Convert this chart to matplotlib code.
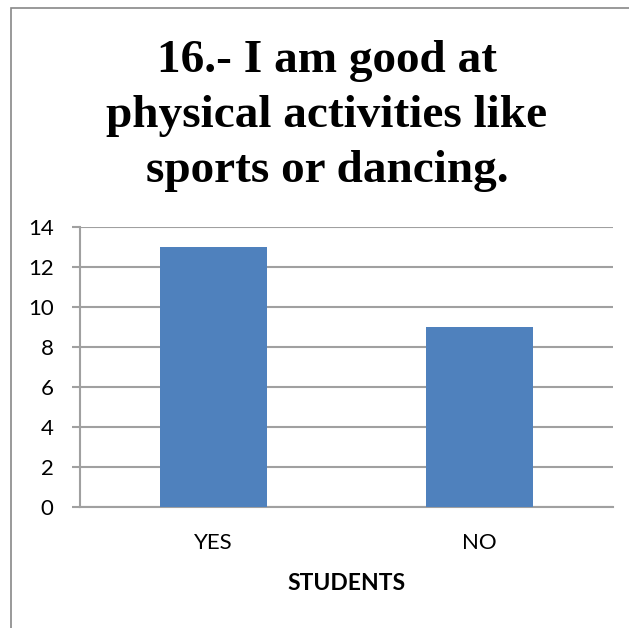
import matplotlib
matplotlib.use("Agg")
import matplotlib.pyplot as plt
from matplotlib.lines import Line2D

# Survey answers for item 16
categories = ["YES", "NO"]
students = [13, 9]
y_ticks = [0, 2, 4, 6, 8, 10, 12, 14]
title_lines = ["16.- I am good at", "physical activities like", "sports or dancing."]
x_title = "STUDENTS"

BAR_COLOR = "#4F81BD"
GRID_COLOR = "#A0A0A0"
SANS = ["Lato", "DejaVu Sans"]
SERIF = ["Liberation Serif", "DejaVu Serif"]
W, H = 629, 628

fig = plt.figure(figsize=(W / 100, H / 100), dpi=100)
fig.patch.set_edgecolor("none")

# chart-area frame: only the left and top edges fall inside the image
x0, y0 = 10.5 / W, 1 - 8 / H
fig.add_artist(Line2D([x0, x0, 1.0], [0.0, y0, y0], transform=fig.transFigure,
                      color="#888888", linewidth=1.2, solid_capstyle="butt",
                      solid_joinstyle="miter"))

# title, one centred line at a time
title_y = [61, 116, 171]
for line, y in zip(title_lines, title_y):
    fig.text(327 / W, 1 - y / H, line, ha="center", va="center",
             family=SERIF, fontweight="bold", fontsize=34)

ax = fig.add_axes([80 / W, 1 - 507 / H, 533 / W, 280 / H])
ax.bar(range(len(categories)), students, width=0.4, color=BAR_COLOR, zorder=3)

ax.set_xlim(-0.5, len(categories) - 0.5)
ax.set_ylim(0, 14)
ax.set_yticks(y_ticks)
ax.set_yticklabels([str(t) for t in y_ticks], family=SANS, fontsize=16)
ax.set_xticks(range(len(categories)))
ax.set_xticklabels(categories, family=SANS, fontsize=16)
ax.set_xlabel(x_title, family=SANS, fontsize=16.5, fontweight="bold", labelpad=14)

ax.grid(axis="y", color=GRID_COLOR, linewidth=1.5, zorder=0)
for side in ("top", "right"):
    ax.spines[side].set_visible(False)
for side in ("left", "bottom"):
    ax.spines[side].set_color(GRID_COLOR)
    ax.spines[side].set_linewidth(1.5)
ax.tick_params(axis="y", length=6, color=GRID_COLOR, width=1.5, pad=13)
ax.tick_params(axis="x", length=0, pad=19)

fig.savefig("out.png", dpi=100)
